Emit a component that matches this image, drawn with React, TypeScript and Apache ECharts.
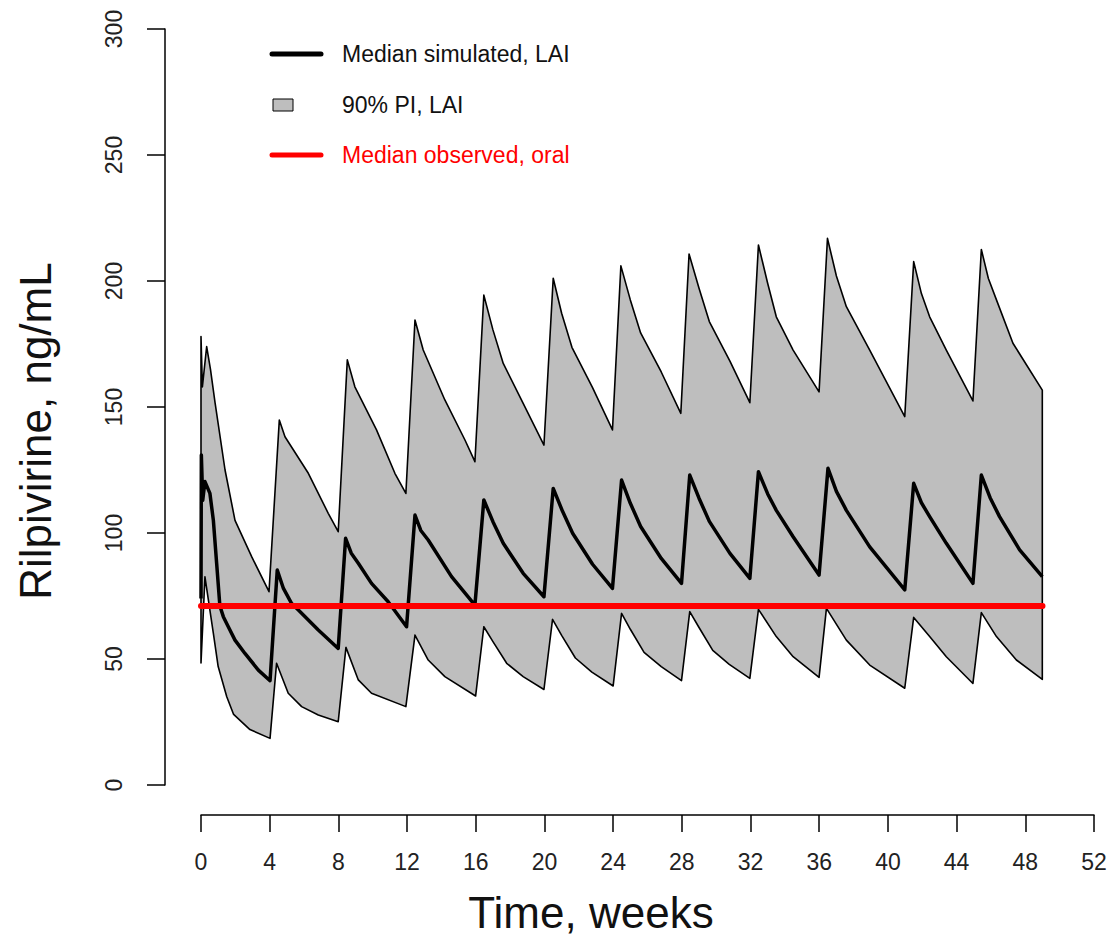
import React, { useEffect, useRef } from "react";
import * as echarts from "echarts";

// Time (weeks) / concentration (ng/mL) pairs
const upper90: [number, number][] = [
  [0, 178], [0.08, 158], [0.33, 174], [0.55, 165], [0.82, 151.6], [1.4, 125], [1.98, 105], [2.95, 90.6], [3.96, 76.7],
  [4.56, 144.8], [4.89, 138.2], [6.25, 123.7], [7.41, 107.8], [7.99, 100.5],
  [8.52, 168.7], [8.96, 158], [10.22, 140.9], [11.29, 123.7], [11.93, 115.7],
  [12.46, 184.5], [12.94, 172.6], [14.2, 152.8], [15.37, 136.9], [15.95, 128.3],
  [16.47, 194.4], [17.0, 180.6], [17.6, 167.3], [18.76, 151.4], [19.97, 134.9],
  [20.51, 201.1], [21.0, 187.2], [21.6, 173.7], [22.8, 157.7], [23.96, 140.9],
  [24.45, 206], [25.0, 192.5], [25.6, 179.4], [26.8, 163.9], [27.94, 147.5],
  [28.42, 210.7], [29.0, 197.1], [29.6, 183.9], [30.8, 168.2], [31.96, 151.7],
  [32.46, 214.3], [33.0, 199], [33.5, 185.8], [34.48, 172.6], [35.99, 156],
  [36.48, 216.9], [37.0, 202], [37.58, 189.8], [38.94, 172.6], [40.98, 146.2],
  [41.5, 207.7], [41.95, 195], [42.43, 185.8], [43.4, 172.6], [44.95, 152.4],
  [45.44, 212.5], [45.85, 201], [46.32, 192.5], [47.28, 175.3], [48.99, 156.7],
];

const lower90: [number, number][] = [
  [0, 48.4], [0.23, 82.6], [0.72, 60.2], [1.0, 47], [1.5, 35], [1.9, 28], [2.85, 22], [4.02, 18.5],
  [4.4, 48.3], [5.08, 36.4], [5.86, 31.1], [6.83, 27.8], [7.99, 25.1],
  [8.44, 54.6], [9.16, 41.7], [9.93, 36.4], [11.93, 31.1],
  [12.46, 59.5], [13.23, 49.6], [14.2, 43], [15.99, 35.3],
  [16.47, 62.8], [17.0, 56.9], [17.8, 48.3], [18.76, 43], [19.97, 37.9],
  [20.47, 65.7], [21.0, 59.4], [21.8, 50.4], [22.76, 44.8], [24.0, 39.3],
  [24.49, 68.1], [25.0, 61.8], [25.8, 52.6], [26.8, 47], [27.98, 41.4],
  [28.46, 68.8], [29.0, 62.5], [29.8, 53.4], [30.76, 47.9], [31.96, 42.3],
  [32.46, 69.7], [33.5, 58.9], [34.48, 50.9], [35.99, 42.7],
  [36.42, 70.1], [37.58, 57.5], [38.94, 47.6], [40.98, 38.4],
  [41.5, 66.5], [42.43, 58.9], [43.4, 50.9], [44.95, 40.3],
  [45.44, 68.4], [46.32, 58.9], [47.48, 49.6], [48.99, 41.9],
];

const medianSim: [number, number][] = [
  [0, 74], [0.02, 131], [0.1, 113], [0.23, 120.4], [0.52, 115.7], [0.72, 105], [0.91, 88], [1.1, 71],
  [1.3, 66.8], [1.59, 62.8], [1.98, 57.5], [2.56, 52.2], [3.34, 45.6], [4.02, 41.4],
  [4.44, 85.3], [4.8, 78], [5.28, 72], [5.67, 69.4], [6.83, 61.5], [7.99, 54.2],
  [8.42, 97.9], [8.75, 92], [9.16, 88], [9.93, 80], [10.9, 72.7], [11.97, 62.8],
  [12.46, 107.1], [12.8, 101], [13.23, 97.2], [14.59, 82.7], [15.95, 71.4],
  [16.47, 113.1], [17.0, 104.5], [17.6, 95.9], [18.76, 84], [19.97, 74.7],
  [20.51, 117.7], [21.04, 108.8], [21.64, 99.9], [22.8, 87.6], [23.96, 78],
  [24.49, 121], [25.0, 111.8], [25.6, 102.6], [26.8, 89.9], [27.98, 80],
  [28.46, 123], [29.0, 113.8], [29.6, 104.6], [30.8, 91.9], [31.96, 82],
  [32.46, 124.3], [33.0, 115.5], [33.5, 109], [34.48, 98.5], [35.99, 83.3],
  [36.51, 125.7], [37.0, 116.5], [37.58, 109], [38.94, 94.5], [40.98, 77.4],
  [41.5, 119.7], [41.95, 112], [42.43, 106.5], [43.4, 95.9], [44.95, 80],
  [45.44, 123], [45.95, 114], [46.5, 106.5], [47.67, 93.3], [48.99, 82.7],
];

const observedOralMedian = 71;
const observedSpan: number[] = [0, 49];

const xTicks = { min: 0, max: 52, step: 4 };
const yTicks = { min: 0, max: 300, step: 50 };

const legendLabels = ["Median simulated, LAI", "90% PI, LAI", "Median observed, oral"];
const xTitle = "Time, weeks";
const yTitle = "Rilpivirine, ng/mL";

const FONT = "'Liberation Sans', Arial, Helvetica, sans-serif";

export default function App() {
  const ref = useRef<HTMLDivElement>(null);

  useEffect(() => {
    if (!ref.current) return;
    const chart = echarts.init(ref.current, undefined, { renderer: "svg" });

    const bandPoints: [number, number][] = [...upper90, ...lower90.slice().reverse()];

    const option: any = {
      animation: false,
      backgroundColor: "#ffffff",
      grid: { left: 201, right: 16, top: 29, bottom: 152, containLabel: false },
      xAxis: {
        type: "value",
        min: xTicks.min,
        max: xTicks.max,
        interval: xTicks.step,
        offset: 30,
        axisLine: { show: true, onZero: false, lineStyle: { color: "#000", width: 1.5 } },
        axisTick: { show: true, length: 17, inside: false, lineStyle: { color: "#000", width: 1.5 } },
        axisLabel: { fontSize: 23, color: "#222", margin: 35, fontFamily: FONT, showMinLabel: true, showMaxLabel: true },
        splitLine: { show: false },
      },
      yAxis: {
        type: "value",
        min: yTicks.min,
        max: yTicks.max,
        interval: yTicks.step,
        offset: 36,
        axisLine: { show: true, onZero: false, lineStyle: { color: "#000", width: 1.5 } },
        axisTick: { show: true, length: 18, inside: false, lineStyle: { color: "#000", width: 1.5 } },
        axisLabel: { fontSize: 23, color: "#222", margin: 40, rotate: 90, fontFamily: FONT, showMinLabel: true, showMaxLabel: true },
        splitLine: { show: false },
      },
      series: [
        {
          type: "custom",
          name: legendLabels[1],
          data: bandPoints,
          encode: { x: 0, y: 1 },
          z: 1,
          renderItem: (params: any, api: any) => {
            if (params.dataIndex !== 0) return null;
            const pts = bandPoints.map((p) => api.coord(p));
            return {
              type: "polygon",
              shape: { points: pts },
              style: { fill: "#bebebe", stroke: "#000", lineWidth: 1.6, lineJoin: "round" },
            };
          },
        },
        {
          type: "line",
          name: legendLabels[0],
          data: medianSim,
          showSymbol: false,
          symbol: "none",
          z: 2,
          lineStyle: { color: "#000", width: 3.5, join: "round" },
        },
        {
          type: "line",
          name: legendLabels[2],
          data: observedSpan.map((t) => [t, observedOralMedian]),
          showSymbol: false,
          symbol: "none",
          z: 3,
          lineStyle: { color: "#ff0000", width: 6, cap: "round" },
        },
      ],
      graphic: [
        {
          type: "text",
          x: 591,
          y: 912,
          style: { text: xTitle, fontSize: 44, fontFamily: FONT, fill: "#111", align: "center", verticalAlign: "middle" },
        },
        {
          type: "text",
          x: 35,
          y: 431,
          rotation: Math.PI / 2,
          style: { text: yTitle, fontSize: 44, fontFamily: FONT, fill: "#111", align: "center", verticalAlign: "middle" },
        },
        {
          type: "line",
          shape: { x1: 272, y1: 54, x2: 321, y2: 54 },
          style: { stroke: "#000", lineWidth: 5, lineCap: "round" },
        },
        {
          type: "text",
          x: 342,
          y: 54,
          style: { text: legendLabels[0], fontSize: 23, fontFamily: FONT, fill: "#111", verticalAlign: "middle" },
        },
        {
          type: "rect",
          shape: { x: 273, y: 99, width: 20, height: 12 },
          style: { fill: "#bebebe", stroke: "#000", lineWidth: 1 },
        },
        {
          type: "text",
          x: 342,
          y: 105,
          style: { text: legendLabels[1], fontSize: 23, fontFamily: FONT, fill: "#111", verticalAlign: "middle" },
        },
        {
          type: "line",
          shape: { x1: 272, y1: 155, x2: 321, y2: 155 },
          style: { stroke: "#ff0000", lineWidth: 5, lineCap: "round" },
        },
        {
          type: "text",
          x: 342,
          y: 155,
          style: { text: legendLabels[2], fontSize: 23, fontFamily: FONT, fill: "#ff0000", verticalAlign: "middle" },
        },
      ],
    };

    chart.setOption(option);
    return () => chart.dispose();
  }, []);

  return (
    <div
      ref={ref}
      style={{ position: "absolute", left: 0, top: 0, width: 1110, height: 937, background: "#fff" }}
    />
  );
}
